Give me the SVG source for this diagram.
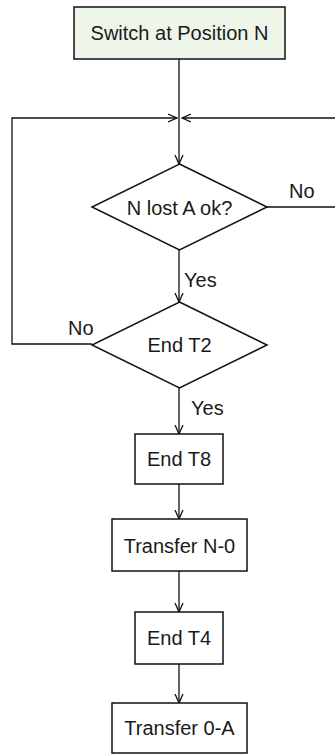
<svg xmlns="http://www.w3.org/2000/svg" width="335" height="754" viewBox="0 0 335 754">
<defs>
<marker id="arr" viewBox="0 0 10 10" refX="9" refY="5" markerWidth="10" markerHeight="10" markerUnits="userSpaceOnUse" orient="auto">
<path d="M0,1 L9,5 L0,9" fill="none" stroke="#111" stroke-width="1.3"/>
</marker>
<style>
.n{fill:#fff;stroke:#111;stroke-width:1.5}
.s{fill:#eef6ea;stroke:#111;stroke-width:1.5}
.t{font-family:"Liberation Sans",Arial,sans-serif;font-size:20px;fill:#1a1a1a;text-anchor:middle}
.l{font-family:"Liberation Sans",Arial,sans-serif;font-size:20px;fill:#1a1a1a}
.c{fill:none;stroke:#111;stroke-width:1.3}
</style>
</defs>
<g id="connectors">
<path class="c" d="M179,59 V164" marker-end="url(#arr)"/>
<path class="c" d="M92,344 H12 V118 H177" marker-end="url(#arr)"/>
<path class="c" d="M267,207 H338 V118 H182" marker-end="url(#arr)"/>
<path class="c" d="M179,250 V302" marker-end="url(#arr)"/>
<path class="c" d="M179,388 V434" marker-end="url(#arr)"/>
<path class="c" d="M179,484 V519" marker-end="url(#arr)"/>
<path class="c" d="M179,571 V612" marker-end="url(#arr)"/>
<path class="c" d="M179,664 V703" marker-end="url(#arr)"/>
<text class="l" x="289" y="198">No</text>
<text class="l" x="184" y="287">Yes</text>
<text class="l" x="68" y="335">No</text>
<text class="l" x="191" y="415">Yes</text>
</g>
<g id="start">
<rect class="s" x="74" y="7" width="211" height="52"/>
<text class="t" x="179.5" y="40">Switch at Position N</text>
</g>
<g id="d1">
<polygon class="n" points="179.5,164 267,207 179.5,250 92,207"/>
<text class="t" x="179.5" y="215">N lost A ok?</text>
</g>
<g id="d2">
<polygon class="n" points="179.5,302 267,345 179.5,388 92,345"/>
<text class="t" x="179.5" y="352">End T2</text>
</g>
<g id="t8">
<rect class="n" x="135" y="434" width="88" height="50"/>
<text class="t" x="179" y="466">End T8</text>
</g>
<g id="tn0">
<rect class="n" x="112" y="519" width="135" height="52"/>
<text class="t" x="179.5" y="553">Transfer N-0</text>
</g>
<g id="t4">
<rect class="n" x="135" y="612" width="88" height="52"/>
<text class="t" x="179" y="645">End T4</text>
</g>
<g id="t0a">
<rect class="n" x="112" y="703" width="135" height="50"/>
<text class="t" x="179.5" y="735">Transfer 0-A</text>
</g>
</svg>
